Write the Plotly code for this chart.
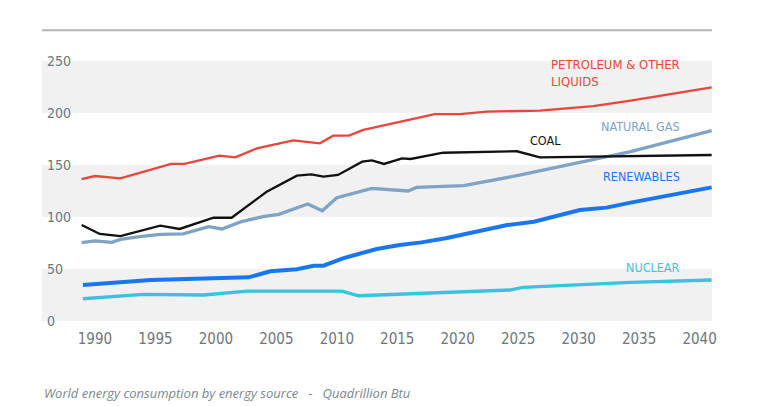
import plotly.graph_objects as go

# ---- data (year, Quadrillion Btu) ----
petroleum_years = [1988.9, 1990.0, 1992.1, 1996.3, 1997.4, 2000.3, 2001.6, 2003.4, 2004.6, 2006.4,
                   2008.6, 2009.7, 2011.0, 2012.2, 2018.1, 2020.2, 2022.4, 2026.8, 2031.2, 2034.3, 2041.0]
petroleum_vals = [136.5, 139.4, 137.2, 151.0, 151.0, 159.0, 157.4, 166.0, 169.2, 173.7,
                  170.8, 178.2, 178.2, 183.7, 199.0, 199.0, 201.3, 202.3, 206.7, 211.8, 224.7]

coal_years = [1988.9, 1990.4, 1992.1, 1995.4, 1997.0, 1999.8, 2001.3, 2004.2, 2006.7, 2007.9,
              2008.9, 2010.1, 2012.1, 2012.9, 2013.9, 2015.4, 2016.1, 2018.8, 2024.9, 2026.8, 2041.0]
coal_vals = [92.3, 83.7, 81.7, 91.6, 88.5, 99.3, 99.3, 124.3, 139.7, 141.0,
             138.8, 140.4, 153.2, 154.5, 151.0, 156.4, 155.8, 161.8, 163.2, 157.4, 159.6]

gas_years = [1988.9, 1990.0, 1991.4, 1992.1, 1993.7, 1995.4, 1997.3, 1999.4, 2000.5, 2002.1,
             2003.9, 2005.2, 2007.6, 2008.8, 2010.0, 2012.9, 2015.9, 2016.6, 2020.5, 2025.2,
             2034.3, 2041.0]
gas_vals = [75.3, 77.0, 75.6, 78.5, 81.1, 83.3, 83.7, 90.7, 88.5, 95.5,
            100.3, 102.6, 112.5, 106.0, 118.6, 127.6, 125.0, 128.5, 130.1, 140.4,
            162.8, 183.0]

renew_years = [1989.0, 1994.6, 2002.7, 2004.5, 2006.7, 2008.1, 2008.9, 2010.1, 2010.5, 2013.3,
               2015.2, 2017.0, 2019.0, 2024.1, 2026.3, 2030.1, 2032.3, 2034.3, 2041.0]
renew_vals = [34.6, 39.4, 42.0, 47.8, 49.7, 53.2, 53.2, 58.7, 60.3, 69.2,
              73.1, 75.6, 79.5, 92.3, 95.5, 106.7, 109.0, 113.8, 128.5]

nuclear_years = [1989.0, 1994.0, 1999.0, 2002.6, 2010.0, 2010.5, 2011.8, 2024.3, 2025.4, 2034.3, 2041.0]
nuclear_vals = [21.4, 25.6, 25.0, 28.8, 28.8, 28.5, 24.3, 29.8, 32.4, 37.2, 39.4]

x_ticks = [1990, 1995, 2000, 2005, 2010, 2015, 2020, 2025, 2030, 2035, 2040]
y_ticks = [0, 50, 100, 150, 200, 250]
bands = [(0, 50), (100, 150), (200, 250)]

caption = ("<i>World energy consumption by energy source"
           "\u00a0\u00a0\u00a0-\u00a0\u00a0\u00a0Quadrillion Btu</i>")

RED = "#e8453c"
COAL = "#111111"
GAS = "#7fa2c5"
RENEW = "#1a76f0"
NUC = "#3cc1e1"
NARROW = "Liberation Sans Narrow, DejaVu Sans Condensed, sans-serif"

fig = go.Figure()

series = [
    (nuclear_years, nuclear_vals, NUC, 3.3, "Nuclear"),
    (renew_years, renew_vals, RENEW, 4.0, "Renewables"),
    (gas_years, gas_vals, GAS, 3.3, "Natural gas"),
    (coal_years, coal_vals, COAL, 2.3, "Coal"),
    (petroleum_years, petroleum_vals, RED, 2.3, "Petroleum & other liquids"),
]
for xs, ys, col, w, name in series:
    fig.add_trace(go.Scatter(x=xs, y=ys, mode="lines", name=name,
                             line=dict(color=col, width=w), hoverinfo="x+y"))

shapes = []
for y0, y1 in bands:
    shapes.append(dict(type="rect", xref="paper", yref="y", x0=0, x1=1, y0=y0, y1=y1,
                       fillcolor="#f1f1f1", line=dict(width=0), layer="below"))
# top rule
shapes.append(dict(type="line", xref="paper", yref="paper", x0=0, x1=1, y0=1.118, y1=1.118,
                   line=dict(color="#b4b4b4", width=2)))

LBL = 12.5
label_x = 2038.55
annotations = [
    dict(x=label_x, y=238.9, text="PETROLEUM & OTHER<br>LIQUIDS", align="left",
         xanchor="right", yanchor="middle", font=dict(color=RED, size=13, family=NARROW)),
    dict(x=label_x, y=187.5, text="NATURAL GAS", xanchor="right", yanchor="middle",
         font=dict(color=GAS, size=LBL, family=NARROW)),
    dict(x=2027.3, y=173.6, text="COAL", xanchor="center", yanchor="middle",
         font=dict(color=COAL, size=LBL, family=NARROW)),
    dict(x=label_x, y=138.5, text="RENEWABLES", xanchor="right", yanchor="middle",
         font=dict(color=RENEW, size=LBL, family=NARROW)),
    dict(x=label_x, y=51.9, text="NUCLEAR", xanchor="right", yanchor="middle",
         font=dict(color=NUC, size=LBL, family=NARROW)),
]
for a in annotations:
    a["showarrow"] = False
    a["xref"] = "x"
    a["yref"] = "y"
annotations.append(dict(xref="paper", yref="paper", x=0.0, y=-0.275, text=caption,
                        xanchor="left", yanchor="middle", showarrow=False,
                        font=dict(family="Open Sans, sans-serif", size=13, color="#7d868e")))

fig.update_layout(
    width=768, height=406,
    margin=dict(l=42, r=56, t=61, b=85),
    paper_bgcolor="white", plot_bgcolor="white",
    showlegend=False,
    shapes=shapes,
    annotations=annotations,
    xaxis=dict(range=[1985.62, 2041.03], tickvals=x_ticks, showgrid=False, zeroline=False,
               showline=False, ticks="", ticklabelstandoff=7,
               tickfont=dict(family=NARROW, size=15, color="#6e757b")),
    yaxis=dict(range=[0, 250], tickvals=y_ticks, showgrid=False, zeroline=False,
               showline=False, ticks="", ticklabelposition="inside", ticklabeloverflow="allow",
               ticklabelstandoff=2,
               tickfont=dict(family=NARROW, size=14, color="#6e757b")),
)

fig.write_html("out.html", config={"displayModeBar": False},
               post_script="document.body.style.margin='0';document.body.style.overflow='hidden';")
